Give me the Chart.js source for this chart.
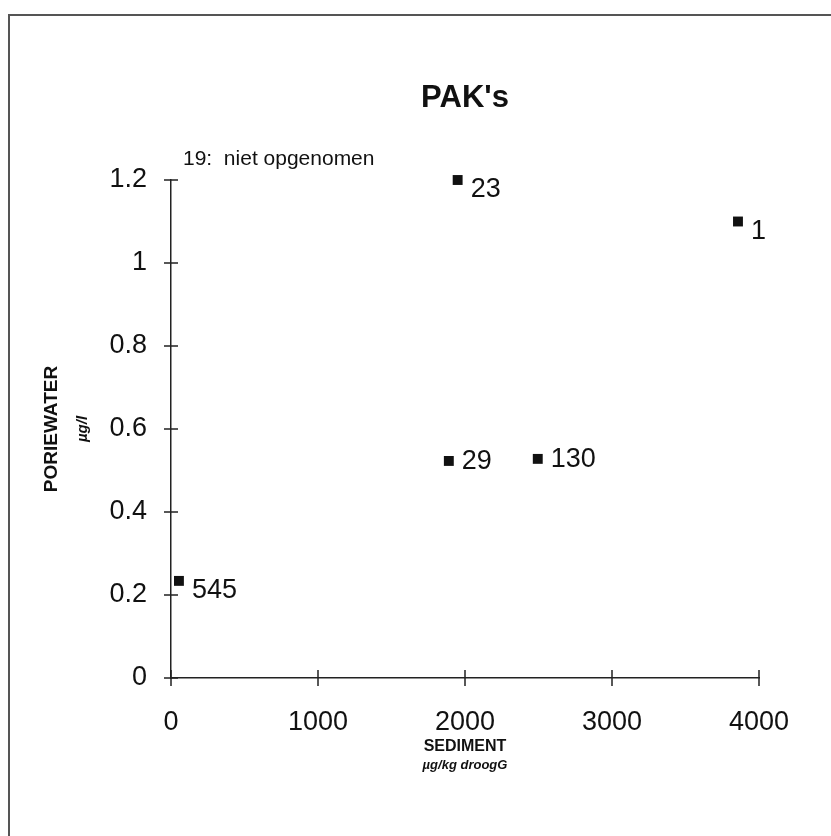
<!DOCTYPE html>
<html>
<head>
<meta charset="utf-8">
<script src="https://cdn.jsdelivr.net/npm/chart.js@4/dist/chart.umd.min.js"></script>
<style>
  html, body { margin: 0; padding: 0; background: #fff; }
  #wrap { position: relative; width: 831px; height: 836px; overflow: hidden; }
  #frame { position: absolute; left: 8px; top: 14px; width: 840px; height: 840px;
           border-left: 2px solid #555; border-top: 2px solid #555; box-sizing: border-box; }
  canvas { position: absolute; left: 0; top: 0; }
</style>
</head>
<body>
<div id="wrap">
  <div id="frame"></div>
  <canvas id="chart" width="831" height="836"></canvas>
</div>
<script>
// meetpunten: sediment (x) tegen poriewater (y)
const sediment = [54, 1890, 2495, 1950, 3857];
const poriewater = [0.234, 0.523, 0.528, 1.2, 1.1];
const pointLabels = ["545", "29", "130", "23", "1"];
// label offset: 'r' = rechts, 'rb' = rechts onder
const labelPos = ["rb", "r", "r", "rb", "rb"];
const xTicks = [0, 1000, 2000, 3000, 4000];
const yTicks = [0, 0.2, 0.4, 0.6, 0.8, 1, 1.2];
const chartTitle = "PAK's";
const note = "19:  niet opgenomen";
const xUnit = "µg/kg droogG";
const yUnit = "µg/l";

const FONT = "'Liberation Sans', Arial, sans-serif";

// kruisende tickstreepjes zoals in het origineel
const crossTicks = {
  id: "crossTicks",
  afterDraw(chart) {
    const ctx = chart.ctx;
    const xs = chart.scales.x, ys = chart.scales.y;
    const ax = xs.getPixelForValue(0), ay = ys.getPixelForValue(0);
    ctx.save();
    ctx.strokeStyle = "#222";
    ctx.lineWidth = 1.5;
    ctx.beginPath();
    yTicks.forEach(v => {
      const py = ys.getPixelForValue(v);
      ctx.moveTo(ax - 7, py); ctx.lineTo(ax + 7, py);
    });
    xTicks.forEach(v => {
      const px = xs.getPixelForValue(v);
      ctx.moveTo(px, ay - 8); ctx.lineTo(px, ay + 8);
    });
    ctx.stroke();
    ctx.restore();
  }
};

// titel, eenheden, nummers naast de punten + notitie
const texts = {
  id: "texts",
  afterDatasetsDraw(chart) {
    const ctx = chart.ctx;
    const area = chart.chartArea;
    const meta = chart.getDatasetMeta(0);
    ctx.save();
    ctx.fillStyle = "#111";
    ctx.textBaseline = "middle";

    ctx.textAlign = "center";
    ctx.font = "bold 31px " + FONT;
    ctx.fillText(chartTitle, (area.left + area.right) / 2, 98);

    ctx.font = "italic bold 13px " + FONT;
    ctx.fillText(xUnit, (area.left + area.right) / 2, 765);
    ctx.save();
    ctx.translate(83, (area.top + area.bottom) / 2);
    ctx.rotate(-Math.PI / 2);
    ctx.font = "italic bold 15px " + FONT;
    ctx.fillText(yUnit, 0, 0);
    ctx.restore();

    ctx.textAlign = "left";
    ctx.font = "27px " + FONT;
    meta.data.forEach((pt, i) => {
      const dy = labelPos[i] === "rb" ? 10 : 1;
      ctx.fillText(pointLabels[i], pt.x + 13, pt.y + dy);
    });
    ctx.font = "21px " + FONT;
    ctx.fillText(note, 183, 159);
    ctx.restore();
  }
};

new Chart(document.getElementById("chart"), {
  type: "scatter",
  data: {
    datasets: [{
      data: sediment.map((x, i) => ({ x: x, y: poriewater[i] })),
      pointStyle: "rect",
      pointRadius: 7,
      backgroundColor: "#111",
      borderColor: "#111",
      borderWidth: 0,
      clip: false
    }]
  },
  options: {
    responsive: false,
    animation: false,
    events: [],
    layout: { padding: { left: 0, right: 72, top: 180, bottom: 0 } },
    plugins: {
      legend: { display: false },
      tooltip: { enabled: false },
      title: { display: false }
    },
    scales: {
      x: {
        type: "linear",
        min: 0, max: 4000,
        afterBuildTicks(scale) { scale.ticks = xTicks.map(v => ({ value: v })); },
        afterFit(scale) { scale.height = 158; },
        grid: { display: false, drawTicks: false },
        border: { display: true, color: "#222", width: 1.5 },
        ticks: {
          color: "#111", padding: 28,
          font: { family: FONT, size: 27 },
          callback: v => String(v)
        },
        title: {
          display: true,
          text: "SEDIMENT",
          color: "#111",
          font: { family: FONT, size: 16, weight: "bold" },
          padding: { bottom: 80 }
        }
      },
      y: {
        type: "linear",
        min: 0, max: 1.2,
        afterBuildTicks(scale) { scale.ticks = yTicks.map(v => ({ value: v })); },
        afterFit(scale) { scale.width = 171; },
        grid: { display: false, drawTicks: false },
        border: { display: true, color: "#222", width: 1.5 },
        ticks: {
          color: "#111", padding: 24,
          font: { family: FONT, size: 27 },
          callback: v => String(Math.round(v * 10) / 10)
        },
        title: {
          display: true,
          text: "PORIEWATER",
          color: "#111",
          font: { family: FONT, size: 19, weight: "bold" },
          padding: { top: 40 }
        }
      }
    }
  },
  plugins: [crossTicks, texts]
});
</script>
</body>
</html>
